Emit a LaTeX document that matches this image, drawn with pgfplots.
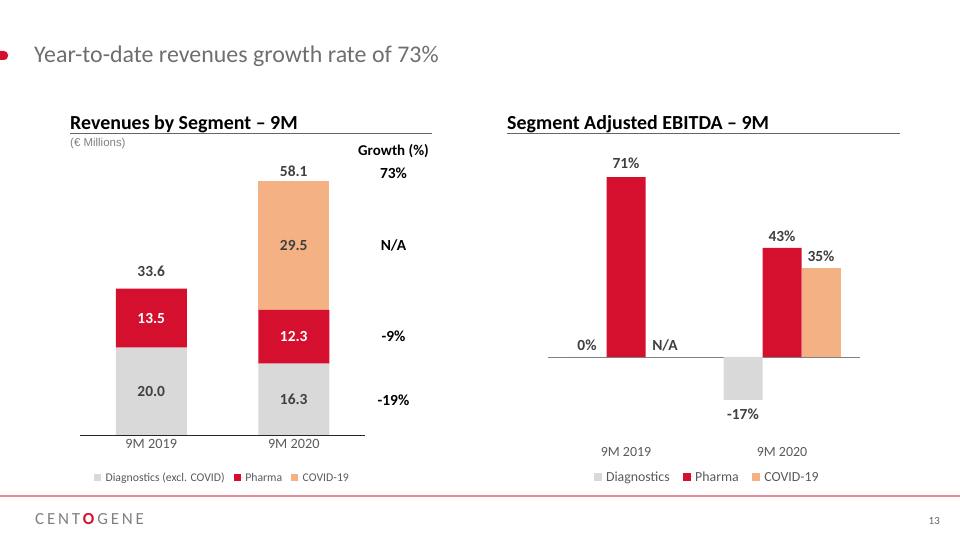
\documentclass[border=0pt]{standalone}
\usepackage{pgfplots}
\pgfplotsset{compat=1.18}
\usepackage{fontspec}
\setmainfont{Carlito}
\newfontfamily\arialfont{Liberation Sans}
\definecolor{cred}{HTML}{D50F2E}
\definecolor{csal}{HTML}{F4B183}
\definecolor{cgray}{HTML}{D9D9D9}
\definecolor{ctxt}{HTML}{404040}
\definecolor{cleg}{HTML}{595959}
\definecolor{ctitle}{HTML}{6E6E6E}
\definecolor{cline}{HTML}{E98A98}
\definecolor{caxis}{HTML}{808080}
\newcommand{\fs}[1]{\fontsize{#1}{#1}\selectfont}
\tikzset{nodelab/.style={font=\bfseries\fs{15.5}, text=ctxt}}
\begin{document}
\begin{tikzpicture}
\useasboundingbox (0bp,0bp) rectangle (960bp,540bp);
% slide decorations
\fill[cred,rounded corners=4bp] (-8bp,480bp) rectangle (8bp,489bp);
\node[anchor=base west, inner sep=0, font=\fs{24}, text=ctitle] at (34bp,477bp) {Year-to-date revenues growth rate of 73\%};
\node[anchor=base west, inner sep=0, font=\bfseries\fs{20}] at (70bp,410bp) {Revenues by Segment – 9M};
\draw[black!60, line width=0.9bp] (70bp,407bp) -- (432bp,407bp);
\node[anchor=base west, inner sep=0, font=\arialfont\fs{11.5}, text=black!50] at (70bp,393bp) {(€ Millions)};
\node[anchor=base west, inner sep=0, font=\bfseries\fs{20}] at (507bp,410bp) {Segment Adjusted EBITDA – 9M};
\draw[black!60, line width=0.9bp] (507bp,407bp) -- (900bp,407bp);
\draw[cline, line width=1.6bp] (0bp,44bp) -- (960bp,44bp);
\node[anchor=west, inner sep=0, font=\fs{17}, text=black!50] at (35bp,21bp) {C\,E\,N\,T\,\textcolor{cred}{\textbf{O}}\,G\,E\,N\,E};
\node[anchor=east, inner sep=0, font=\fs{11}, text=black!60] at (940bp,19bp) {13};

% left chart
\begin{axis}[at={(80bp,105bp)}, anchor=south west, scale only axis,
  width=285bp, height=254bp, xmin=-0.5, xmax=1.5, ymin=0, ymax=58.1,
  axis x line*=bottom, axis y line=none, x axis line style={color=black!85,-},
  xtick={0,1}, xticklabels={9M 2019,9M 2020}, major tick length=0pt,
  xticklabel style={font=\fs{14.3}, text=cleg, yshift=-1bp},
  ybar stacked, bar width=71bp, clip=false,
  legend style={at={(0.5,-0.169)}, anchor=center, draw=none, fill=none,
    legend columns=-1, font=\fs{11.8}, text=cleg,
    /tikz/every even column/.append style={column sep=7bp}},
  legend image code/.code={\fill[#1] (0bp,-3.5bp) rectangle (7bp,3.5bp); \path (0bp,0bp) -- (9.5bp,0bp);},
  after end axis/.code={
    \node[nodelab] at (axis cs:0,10.0) {20.0};
    \node[nodelab] at (axis cs:1,8.15) {16.3};
    \node[nodelab, text=white] at (axis cs:0,26.75) {13.5};
    \node[nodelab, text=white] at (axis cs:1,22.45) {12.3};
    \node[nodelab] at (axis cs:1,43.35) {29.5};
    \node[nodelab] at (axis cs:0,37.5) {33.6};
    \node[nodelab] at (axis cs:1,60.4) {58.1};
    \node[font=\bfseries\fs{15}] at (axis cs:1.70,65.0) {Growth (\%)};
    \node[font=\bfseries\fs{15.5}] at (axis cs:1.70,59.9) {73\%};
    \node[font=\bfseries\fs{15.5}] at (axis cs:1.70,43.45) {N/A};
    \node[font=\bfseries\fs{15.5}] at (axis cs:1.70,22.6) {-9\%};
    \node[font=\bfseries\fs{15.5}] at (axis cs:1.70,8.0) {-19\%};
  },
]
\addplot[fill=cgray, draw=none] coordinates {(0,20.0) (1,16.3)};
\addplot[fill=cred, draw=none] coordinates {(0,13.5) (1,12.3)};
\addplot[fill=csal, draw=none] coordinates {(0,0) (1,29.5)};
\legend{\strut Diagnostics (excl. COVID),\strut Pharma,\strut COVID-19}
\end{axis}

% right chart
\begin{axis}[at={(548bp,140bp)}, anchor=south west, scale only axis,
  width=312bp, height=223bp, xmin=-0.5, xmax=1.5, ymin=-17, ymax=71,
  axis x line=middle, axis y line=none, x axis line style={color=caxis,-},
  xtick=\empty, ytick=\empty,
  ybar=0pt, bar width=39bp, clip=false,
  legend style={at={(0.51,-0.345)}, anchor=center, draw=none, fill=none,
    legend columns=-1, font=\fs{13.9}, text=cleg,
    /tikz/every even column/.append style={column sep=11bp}},
  legend image code/.code={\fill[#1] (0bp,-4bp) rectangle (8bp,4bp); \path (0bp,0bp) -- (10.5bp,0bp);},
  after end axis/.code={
    \node[nodelab] at (axis cs:-0.25,4.7) {0\%};
    \node[nodelab] at (axis cs:0.25,4.7) {N/A};
    \node[nodelab] at (axis cs:0,76.5) {71\%};
    \node[nodelab] at (axis cs:0.75,-22.5) {-17\%};
    \node[nodelab] at (axis cs:1,47.7) {43\%};
    \node[nodelab] at (axis cs:1.25,39.8) {35\%};
    \node[font=\fs{14}, text=cleg] at (axis cs:0,-37.5) {9M 2019};
    \node[font=\fs{14}, text=cleg] at (axis cs:1,-37.5) {9M 2020};
  },
]
\addplot[fill=cgray, draw=none] coordinates {(0,0) (1,-17)};
\addplot[fill=cred, draw=none] coordinates {(0,71) (1,43)};
\addplot[fill=csal, draw=none] coordinates {(1,35)};
\legend{\strut Diagnostics,\strut Pharma,\strut COVID-19}
\end{axis}
\end{tikzpicture}
\end{document}
